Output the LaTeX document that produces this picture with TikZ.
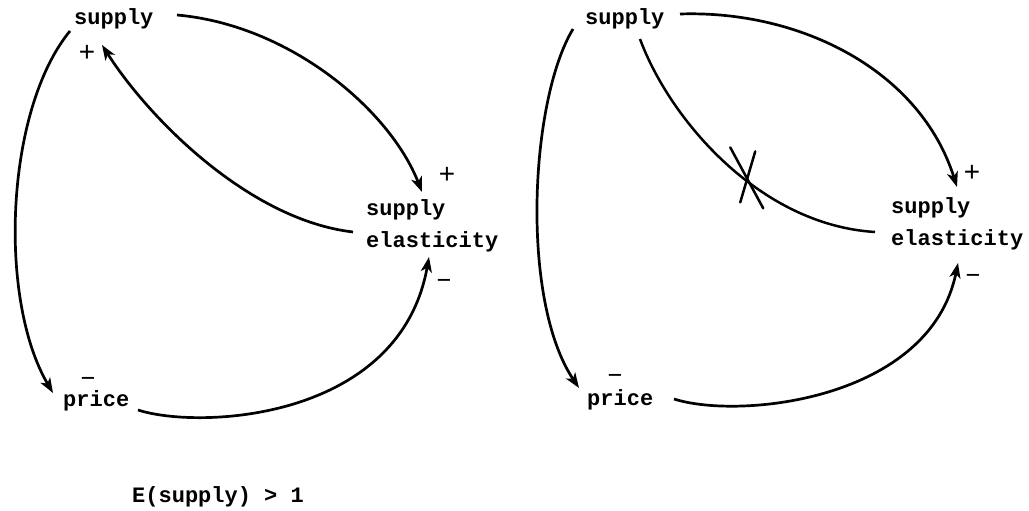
\documentclass[tikz,border=0pt]{standalone}
\usepackage{fontspec}
\setmonofont{Liberation Mono}
\usetikzlibrary{arrows.meta,calc}
\tikzset{
	term/.style={
		font=\ttfamily\bfseries\fontsize{22}{32}\selectfont,
		inner sep=0pt,
		anchor=base west,
		align=left,
	},
	sign/.style={
		font=\ttfamily\fontsize{28}{28}\selectfont,
		inner sep=0pt,
	},
	link/.style={
		-{Stealth[length=15pt,width=11pt,inset=4pt]},
		line width=2.7pt,
	},
	cutlink/.style={
		line width=2.5pt,
	},
	cutmark/.style={
		line width=2.5pt,
		line cap=round,
	}
}

\begin{document}
\begin{tikzpicture}[x=1pt,y=-1pt]
	\fill[white] (0,0) rectangle (1029,511);
	\useasboundingbox (0,0) rectangle (1029,511);

	% --- Left loop ---
	\node[term] (supL) at (74,25) {supply};
	\node[term] (elL) at (366,247) {supply\\elasticity};
	\node[term] (priceL) at (63,406) {price};
	\node[term] (cond) at (132,502) {E(supply) > 1};

	\node[sign] (plusSL) at (87,53) {+};
	\node[sign] (plusEL) at (447,175) {+};
	\node[sign] (minEL) at (444,283) {–};
	\node[sign] (minPL) at (88,381) {–};

	\draw[link] ($(supL.base west)+(-4,6)$) .. controls (5,110) and (-2,300) .. ($(priceL.base west)+(-10,-13)$);
	\draw[link] ($(supL.base west)+(103,-10)$) .. controls (290,25) and (390,110) .. ($(elL.base west)+(56,-55)$);
	\draw[link] ($(elL.base west)+(-13,-15)$) .. controls (250,220) and (150,120) .. ($(supL.base west)+(28,20)$);
	\draw[link] ($(priceL.base west)+(75,4)$) .. controls (200,430) and (400,420) .. ($(elL.base west)+(63,10)$);

	% --- Right loop (feedback cut) ---
	\node[term] (supR) at (585,25) {supply};
	\node[term] (elR) at (891,245) {supply\\elasticity};
	\node[term] (priceR) at (587,405) {price};

	\node[sign] (plusER) at (972,173) {+};
	\node[sign] (minER) at (973,278) {–};
	\node[sign] (minPR) at (615,378) {–};

	\draw[link] ($(supR.base west)+(-12,4)$) .. controls (530,100) and (520,300) .. ($(priceR.base west)+(-8,-17)$);
	\draw[link] ($(supR.base west)+(95,-11)$) .. controls (800,10) and (920,70) .. ($(elR.base west)+(66,-58)$);
	\draw[link] ($(priceR.base west)+(87,-6)$) .. controls (740,420) and (930,400) .. ($(elR.base west)+(67,18)$);
	\draw[cutlink] ($(supR.base west)+(55,14)$) .. controls (670,120) and (760,225) .. coordinate[pos=0.585] (cut) ($(elR.base west)+(-16,-13)$);

	\draw[cutmark] ($(cut)+(-17,-34)$) -- ($(cut)+(16,27)$);
	\draw[cutmark] ($(cut)+(8,-30)$) -- ($(cut)+(-7,21)$);
\end{tikzpicture}
\end{document}
